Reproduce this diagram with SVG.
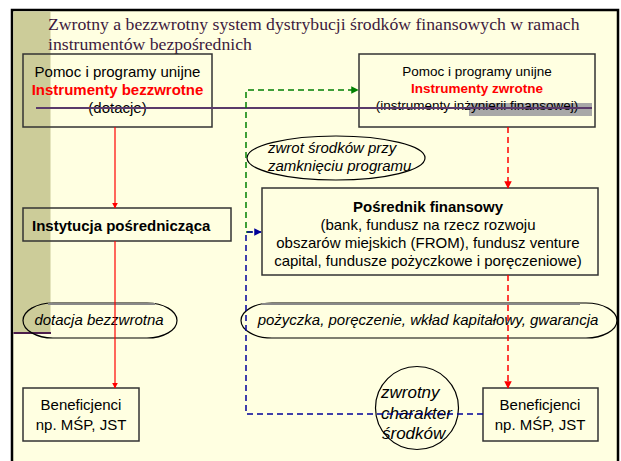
<svg xmlns="http://www.w3.org/2000/svg" width="621" height="461" viewBox="0 0 621 461">
<defs>
<style>
.t{font-family:"Liberation Sans",Arial,sans-serif;font-size:15px;fill:#000}
.c{text-anchor:middle}
.b{font-weight:bold}
.r{fill:#ff0000}
.i{font-style:italic}
.box{fill:none;stroke:#333;stroke-width:1.5}
.oval{fill:none;stroke:#000;stroke-width:1.2}
.topl{stroke:#888;stroke-width:2}
.title{font-family:"Liberation Serif","Times New Roman",serif;font-size:17.7px;fill:#3d1a3d}
</style>
<marker id="ar" viewBox="0 0 10 10" refX="9" refY="5" markerWidth="5" markerHeight="5" orient="auto"><path d="M0,0 L10,5 L0,10 Z" fill="#ff0000"/></marker>
<marker id="ag" viewBox="0 0 10 10" refX="9" refY="5" markerWidth="5" markerHeight="5" orient="auto"><path d="M0,0 L10,5 L0,10 Z" fill="#008000"/></marker>
<marker id="ab" viewBox="0 0 10 10" refX="9" refY="5" markerWidth="5" markerHeight="5" orient="auto"><path d="M0,0 L10,5 L0,10 Z" fill="#000099"/></marker>
</defs>
<rect width="621" height="461" fill="#ffffff"/>
<rect x="12" y="10" width="606" height="460" fill="#ffffe1" stroke="#000" stroke-width="2.5"/>
<rect x="13.5" y="11.5" width="37" height="321" fill="#cccc99"/>
<line x1="13.5" y1="333" x2="51" y2="333" stroke="#4b1d4b" stroke-width="2"/>
<g id="title">
<text class="title" x="48" y="30">Zwrotny a bezzwrotny system dystrybucji środków finansowych w ramach</text>
<text class="title" x="48" y="50">instrumentów bezpośrednich</text>
</g>
<rect x="469" y="103" width="123" height="13" fill="#a8a8a8"/>
<g id="box-bezzwrotne">
<rect class="box" x="23" y="54" width="189" height="73"/>
<text class="t c" x="117.5" y="77">Pomoc i programy unijne</text>
<text class="t c b r" x="117.5" y="95">Instrumenty bezzwrotne</text>
<text class="t c" x="117.5" y="113">(dotacje)</text>
</g>
<g id="box-zwrotne">
<rect class="box" x="359" y="54" width="236" height="73"/>
<text class="t c" x="477" y="76" style="font-size:13.5px">Pomoc i programy unijne</text>
<text class="t c b r" x="477" y="93" style="font-size:13.5px">Instrumenty zwrotne</text>
<text class="t c" x="477" y="110" style="font-size:13.5px">(instrumenty inżynierii finansowej)</text>
</g>
<g id="box-instytucja">
<rect class="box" x="23" y="208" width="208" height="33"/>
<text class="t b" x="32" y="231">Instytucja pośrednicząca</text>
</g>
<g id="box-posrednik">
<rect class="box" x="262" y="188" width="336" height="87"/>
<text class="t c b" x="428" y="212">Pośrednik finansowy</text>
<text class="t c" x="428" y="230">(bank, fundusz na rzecz rozwoju</text>
<text class="t c" x="428" y="248">obszarów miejskich (FROM), fundusz venture</text>
<text class="t c" x="428" y="266">capital, fundusze pożyczkowe i poręczeniowe)</text>
</g>
<g id="oval-zwrot">
<ellipse class="oval" cx="336" cy="158" rx="89" ry="22"/>
<text class="t i" x="268" y="153">zwrot środków przy</text>
<text class="t i" x="268" y="171">zamknięciu programu</text>
</g>
<g id="oval-dotacja">
<path class="oval" d="M53,303 H147 A30,17.5 0 0 1 147,338 H53 A30,17.5 0 0 1 53,303 Z"/>
<line class="topl" x1="48" y1="304" x2="155" y2="304"/>
<text class="t i c" x="99" y="325">dotacja bezzwrotna</text>
</g>
<g id="oval-pozyczka">
<path class="oval" d="M272,303 H586 A31,17.5 0 0 1 586,338 H272 A31,17.5 0 0 1 272,303 Z"/>
<line class="topl" x1="262" y1="304" x2="580" y2="304"/>
<text class="t i c" x="428" y="325">pożyczka, poręczenie, wkład kapitałowy, gwarancja</text>
</g>
<g id="ben-left">
<rect class="box" x="23" y="388" width="116" height="53"/>
<text class="t c" x="81" y="410">Beneficjenci</text>
<text class="t c" x="81" y="430">np. MŚP, JST</text>
</g>
<g id="ben-right">
<rect class="box" x="483" y="388" width="115" height="53"/>
<text class="t c" x="540" y="410">Beneficjenci</text>
<text class="t c" x="540" y="430">np. MŚP, JST</text>
</g>
<g id="circle-zwrotny">
<circle class="oval" cx="417" cy="408" r="41.5"/>
<text class="t i" x="381" y="398" style="font-size:17px">zwrotny</text>
<text class="t i" x="381" y="419" style="font-size:17px">charakter</text>
<text class="t i" x="382" y="439" style="font-size:17px">środków</text>
</g>
<g id="connectors" fill="none">
<line x1="36" y1="108" x2="592" y2="108" stroke="#5a3a6a" stroke-width="2"/>
<line x1="115" y1="127" x2="115" y2="208" stroke="#ff0000" stroke-width="1.2" marker-end="url(#ar)"/>
<line x1="115" y1="241" x2="115" y2="388" stroke="#ff0000" stroke-width="1.2" marker-end="url(#ar)"/>
<line x1="508" y1="127" x2="508" y2="188" stroke="#ff0000" stroke-width="1.5" stroke-dasharray="6,4" marker-end="url(#ar)"/>
<line x1="508" y1="275" x2="508" y2="388" stroke="#ff0000" stroke-width="1.5" stroke-dasharray="6,4" marker-end="url(#ar)"/>
<path d="M252,232 H246 V90 H358" stroke="#008000" stroke-width="1.5" stroke-dasharray="6,4" marker-end="url(#ag)"/>
<path d="M483,414 H246 V232 H261" stroke="#000099" stroke-width="1.5" stroke-dasharray="6,4" marker-end="url(#ab)"/>
</g>
</svg>
